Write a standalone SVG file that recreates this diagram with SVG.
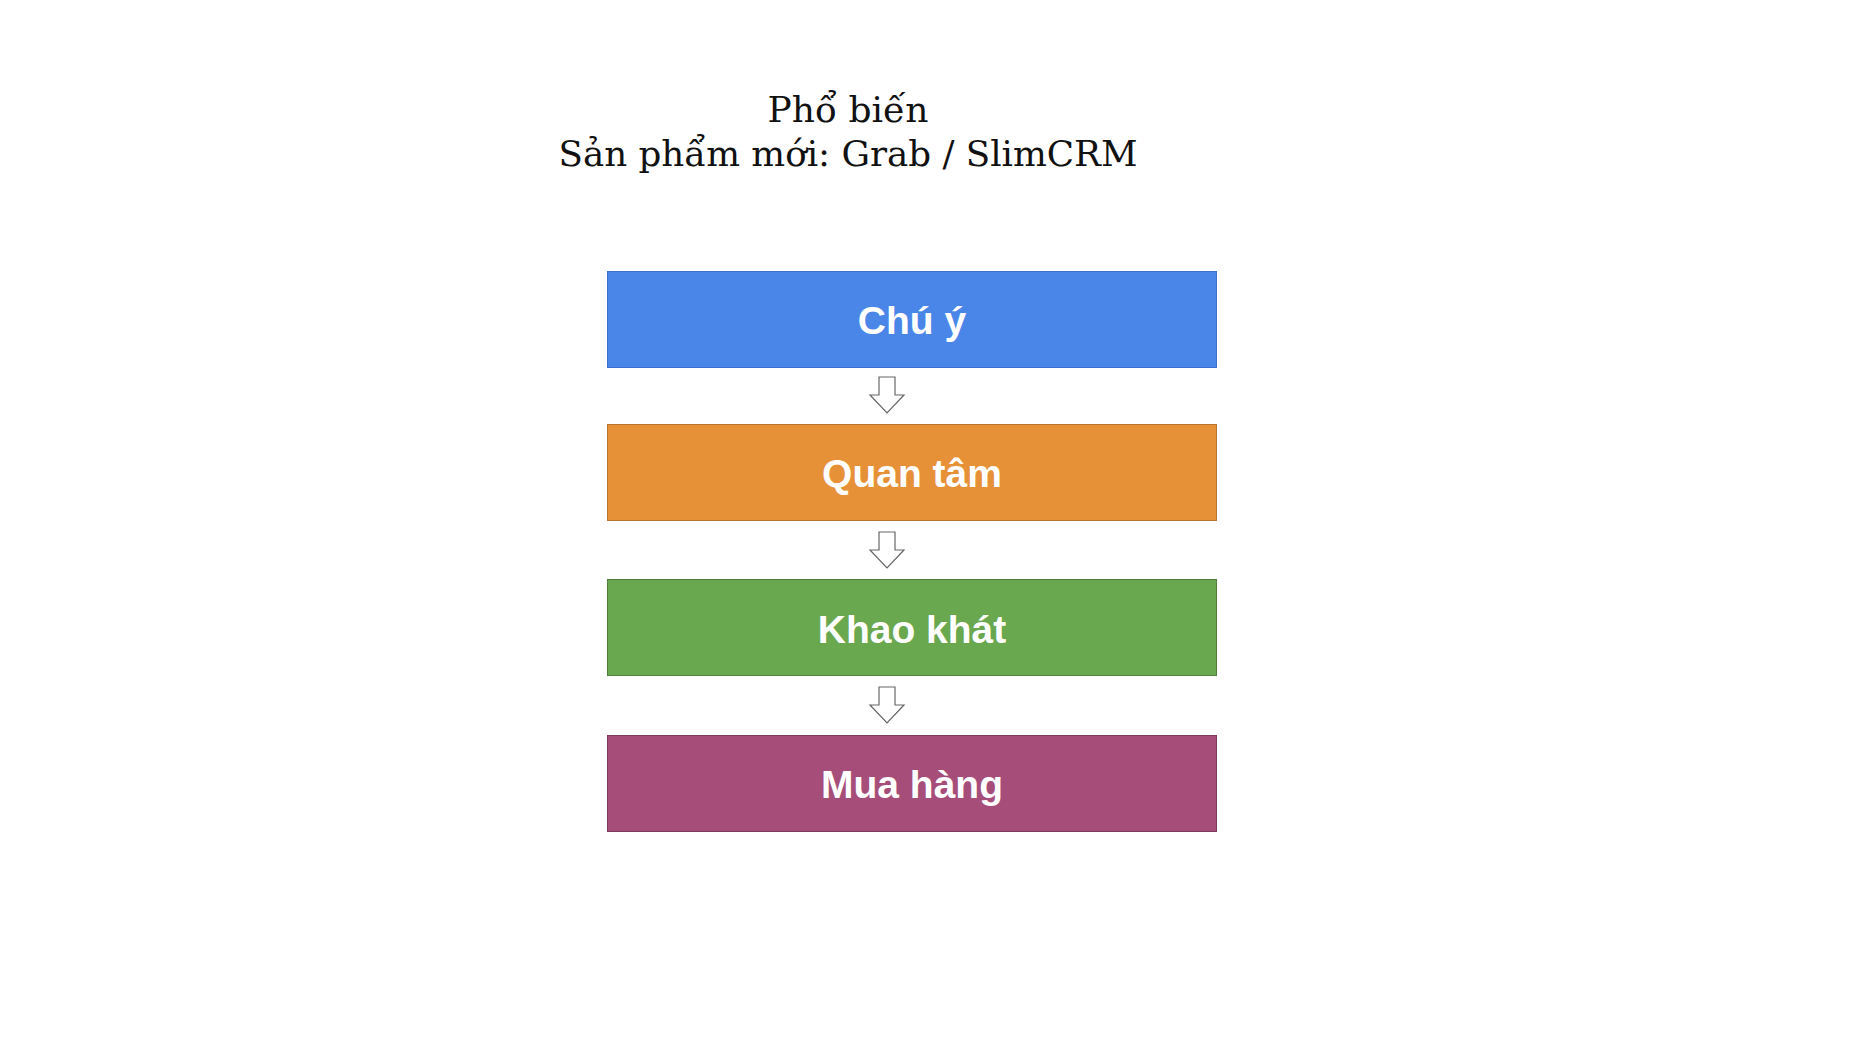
<svg xmlns="http://www.w3.org/2000/svg" width="1875" height="1055" viewBox="0 0 1875 1055">
<style>
.title{font-family:"DejaVu Serif","Liberation Serif",serif;font-size:36px;fill:#111;text-anchor:middle}
.lbl{font-family:"Liberation Sans",Arial,sans-serif;font-weight:bold;font-size:39px;fill:#fff;text-anchor:middle}
.arrow{fill:#fff;stroke:#666;stroke-width:1.2}
</style>
<defs>
<path id="arr" d="M-8,0 H8 V18 H17 L0,36 L-17,18 H-8 Z"/>
</defs>
<rect width="1875" height="1055" fill="#fff"/>
<g id="title">
<text class="title" x="848" y="122" textLength="161" lengthAdjust="spacingAndGlyphs">Phổ biến</text>
<text class="title" x="848" y="166" textLength="579" lengthAdjust="spacingAndGlyphs">Sản phẩm mới: Grab / SlimCRM</text>
</g>
<g id="connectors">
<use href="#arr" class="arrow" x="887" y="377"/>
<use href="#arr" class="arrow" x="887" y="532"/>
<use href="#arr" class="arrow" x="887" y="687"/>
</g>
<g id="node-chu-y">
<rect x="607.5" y="271.5" width="609" height="96" fill="#4a86e8" stroke="#3c6fd0"/>
<text class="lbl" x="912" y="334">Chú ý</text>
</g>
<g id="node-quan-tam">
<rect x="607.5" y="424.5" width="609" height="96" fill="#e69138" stroke="#b8732c"/>
<text class="lbl" x="912" y="487">Quan tâm</text>
</g>
<g id="node-khao-khat">
<rect x="607.5" y="579.5" width="609" height="96" fill="#6aa84f" stroke="#4f7f3a"/>
<text class="lbl" x="912" y="643">Khao khát</text>
</g>
<g id="node-mua-hang">
<rect x="607.5" y="735.5" width="609" height="96" fill="#a64d79" stroke="#7e3a5c"/>
<text class="lbl" x="912" y="798">Mua hàng</text>
</g>
</svg>
